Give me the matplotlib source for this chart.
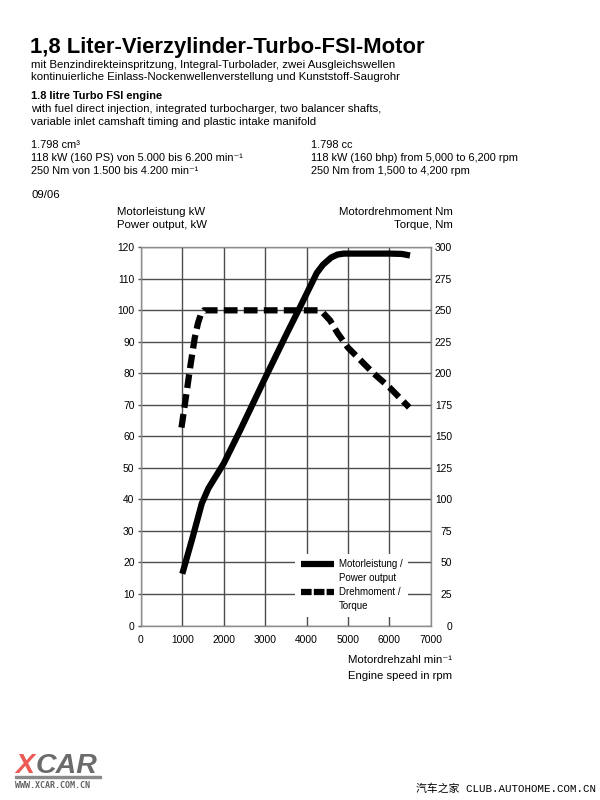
import matplotlib
matplotlib.use('Agg')
import matplotlib.pyplot as plt
from matplotlib.lines import Line2D
from matplotlib.patches import Rectangle

plt.rcParams['font.family'] = ['Liberation Sans', 'DejaVu Sans']

# Power output (kW) over engine speed (rpm)
power_rpm = [1000, 1250, 1470, 1630, 2000, 2400, 3000, 3500, 3850, 4000,
             4250, 4400, 4600, 4750, 4900, 5500, 6000, 6300, 6500]
power_kw = [16.4, 28, 38.7, 43.5, 51.4, 62, 78.5, 92, 101.2, 105.2,
            111.9, 114.5, 116.8, 117.7, 118, 118, 118, 117.9, 117.4]

# Torque (Nm) over engine speed (rpm)
torque_rpm = [980, 1100, 1200, 1300, 1380, 1450, 1520, 4280, 4400, 4570,
              4750, 5000, 5620, 6000, 6480]
torque_nm = [157, 184, 207, 228, 240, 247, 250, 250, 248, 242,
             232, 220.5, 200, 189, 173]

x_ticks = [0, 1000, 2000, 3000, 4000, 5000, 6000, 7000]
kw_ticks = [0, 10, 20, 30, 40, 50, 60, 70, 80, 90, 100, 110, 120]
nm_ticks = [0, 25, 50, 75, 100, 125, 150, 175, 200, 225, 250, 275, 300]

W, H = 600, 800
fig = plt.figure(figsize=(6, 8), dpi=100)


def ftext(x, y, s, **kw):
    # place text using pixel positions of the page (baseline)
    kw.setdefault('va', 'baseline')
    fig.text(x / W, 1 - y / H, s, **kw)


# Header text
ftext(30, 53, '1,8 Liter-Vierzylinder-Turbo-FSI-Motor', fontsize=15.8, fontweight='bold')
body = 8.2
ftext(31, 67.7, 'mit Benzindirekteinspritzung, Integral-Turbolader, zwei Ausgleichswellen', fontsize=body)
ftext(31, 80.3, 'kontinuierliche Einlass-Nockenwellenverstellung und Kunststoff-Saugrohr', fontsize=body)
ftext(31, 99, '1.8 litre Turbo FSI engine', fontsize=7.9, fontweight='bold')
ftext(31, 112, 'with fuel direct injection, integrated turbocharger, two balancer shafts,', fontsize=body)
ftext(31, 124.7, 'variable inlet camshaft timing and plastic intake manifold', fontsize=body)

spec = 7.9
ftext(31, 148, '1.798 cm³', fontsize=spec)
ftext(31, 161, '118 kW (160 PS) von 5.000 bis 6.200 min⁻¹', fontsize=spec)
ftext(31, 174.5, '250 Nm von 1.500 bis 4.200 min⁻¹', fontsize=spec)
ftext(311, 148, '1.798 cc', fontsize=spec)
ftext(311, 161, '118 kW (160 bhp) from 5,000 to 6,200 rpm', fontsize=spec)
ftext(311, 174.5, '250 Nm from 1,500 to 4,200 rpm', fontsize=spec)
ftext(31, 198, '09/06', fontsize=body)

# Axis captions
ftext(117.3, 215, 'Motorleistung kW', fontsize=body)
ftext(117.3, 227.5, 'Power output, kW', fontsize=body)
ftext(452.7, 215, 'Motordrehmoment Nm', fontsize=body, ha='right')
ftext(452.7, 227.5, 'Torque, Nm', fontsize=body, ha='right')
ftext(451.7, 662.7, 'Motordrehzahl min⁻¹', fontsize=body, ha='right')
ftext(451.7, 679.3, 'Engine speed in rpm', fontsize=body, ha='right')

# Chart
ax = fig.add_axes([140.9 / W, 1 - 625.5 / H, 289.8 / W, 378.2 / H])
ax.set_xlim(0, 7000)
ax.set_ylim(0, 120)
ax.set_xticks(x_ticks)
ax.set_yticks(kw_ticks)
ax.grid(True, color='#4d4d4d', linewidth=1.0)
ax.set_axisbelow(True)
for sp in ax.spines.values():
    sp.set_color('#8c8c8c')
    sp.set_linewidth(1.0)
ax.tick_params(axis='x', length=0, pad=6.8, labelsize=7.4)
ax.tick_params(axis='y', length=2.2, width=1, color='#555555', pad=2.4, labelsize=7.4)

ax.plot(power_rpm, power_kw, color='black', linewidth=4.5, solid_capstyle='butt',
        solid_joinstyle='round', zorder=3)

ax2 = ax.twinx()
ax2.set_ylim(0, 300)
ax2.set_yticks(nm_ticks)
for sp in ax2.spines.values():
    sp.set_visible(False)
ax2.tick_params(axis='y', length=0, pad=15.3, labelsize=7.4)
for lab in ax2.get_yticklabels():
    lab.set_horizontalalignment('right')

ax2.plot(torque_rpm, torque_nm, color='black', linewidth=4.5, dashes=(2.2, 1.0),
         dash_capstyle='butt', zorder=3)

# Legend
handles = [
    Line2D([], [], color='black', linewidth=4.5, solid_capstyle='butt'),
    Line2D([], [], color='none'),
    Line2D([], [], color='black', linewidth=4.5, dashes=(1.7, 0.35), dash_capstyle='butt'),
    Line2D([], [], color='none'),
]
labels = ['Motorleistung /', 'Power output', 'Drehmoment /', 'Torque']
leg = ax2.legend(handles, labels, loc='upper left', bbox_to_anchor=(0.532, 0.19),
                 fontsize=7.0, frameon=True, facecolor='white', edgecolor='none',
                 framealpha=1, fancybox=False, borderpad=0.6, borderaxespad=0,
                 handlelength=3.4, handletextpad=0.5, labelspacing=0.4)

# Watermarks
ftext(15, 773, 'X', fontsize=20.5, fontweight='bold', fontstyle='italic', color='#ec5a55')
ftext(35.5, 773, 'CAR', fontsize=20.5, fontweight='bold', fontstyle='italic', color='#6b6b6b')
fig.patches.append(Rectangle((15 / W, 1 - 778 / H), 86 / W, 2 / H,
                             transform=fig.transFigure, color='#8a8a8a'))
ftext(15, 788, 'WWW.XCAR.COM.CN', fontsize=6, fontweight='bold', color='#606060',
      family=['DejaVu Sans Mono'])
ftext(596, 792, '汽车之家 CLUB.AUTOHOME.COM.CN', fontsize=7.8, ha='right',
      family=['Liberation Mono', 'Noto Sans CJK SC'])

fig.savefig('out.png', dpi=100)
